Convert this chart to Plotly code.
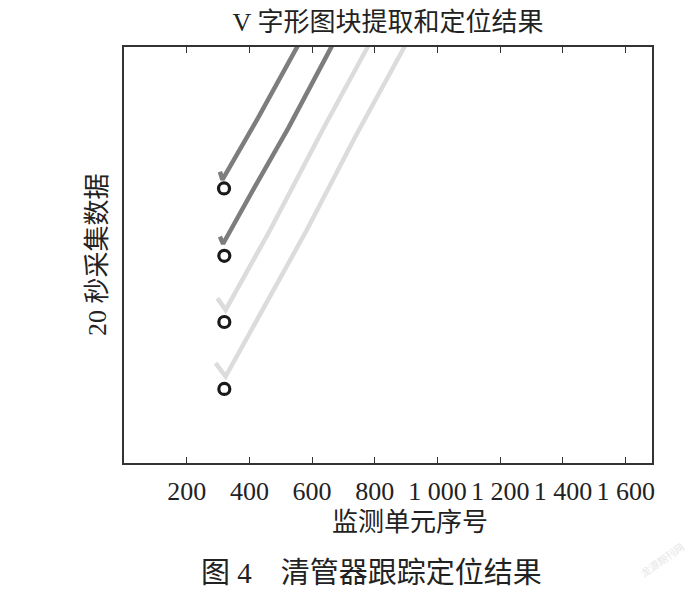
import plotly.graph_objects as go

# ---- data ----
# four tracked V-shaped blocks: x = monitoring unit index, y = time position (arbitrary units 0-100)
track1_x = [306, 314, 428, 549, 574]
track1_y = [70.0, 68.1, 83.0, 99.7, 103.0]
track2_x = [306, 316, 418, 524, 662, 683]
track2_y = [54.4, 52.7, 66.5, 80.5, 100.1, 103.0]
track3_x = [298, 324, 466, 640, 775, 799]
track3_y = [39.6, 36.8, 56.0, 81.0, 99.7, 103.0]
track4_x = [292, 324, 583, 738, 892, 916]
track4_y = [24.0, 20.8, 56.0, 78.5, 99.7, 103.0]

loc_x = [319, 320, 320, 320]
loc_y = [66.0, 49.8, 33.9, 17.8]

tick_vals = [200, 400, 600, 800, 1000, 1200, 1400, 1600]
tick_text = ["200", "400", "600", "800", "1 000", "1 200", "1 400", "1 600"]

title_text = "V 字形图块提取和定位结果"
x_title = "监测单元序号"
y_title = "20 秒采集数据"
caption = "图 4\u3000清管器跟踪定位结果"

FONT = "Liberation Serif, Times New Roman, Noto Sans CJK SC, serif"
DARK = "#7d7d7d"
LIGHT = "#dcdcdc"

fig = go.Figure()
for xs, ys, col in [(track1_x, track1_y, DARK), (track2_x, track2_y, DARK),
                    (track3_x, track3_y, LIGHT), (track4_x, track4_y, LIGHT)]:
    fig.add_trace(go.Scatter(x=xs, y=ys, mode="lines",
                             line=dict(color=col, width=4.5), showlegend=False,
                             hoverinfo="skip"))

fig.add_trace(go.Scatter(x=loc_x, y=loc_y, mode="markers",
                         marker=dict(symbol="circle-open", size=11, color="#1a1a1a",
                                     line=dict(width=3.2, color="#1a1a1a")),
                         showlegend=False, cliponaxis=False))

fig.update_layout(
    width=700, height=593,
    margin=dict(l=124, r=48, t=47, b=130),
    paper_bgcolor="white", plot_bgcolor="white",
    font=dict(family=FONT, color="#222222", size=26),
    title=dict(text=title_text, x=388 / 700, xanchor="center",
               y=1 - 22 / 593, yanchor="middle", yref="container",
               font=dict(family=FONT, size=26, color="#222222")),
    xaxis=dict(range=[0, 1684], showgrid=False, zeroline=False,
               showline=True, linecolor="#333333", linewidth=1.5, mirror="ticks",
               ticks="inside", ticklen=6, tickcolor="#333333", tickwidth=1,
               tickvals=tick_vals, ticktext=tick_text,
               tickfont=dict(family=FONT, size=26, color="#222222"),
               ticklabelstandoff=4),
    yaxis=dict(range=[0, 100], showgrid=False, zeroline=False,
               showline=True, linecolor="#333333", linewidth=1.5, mirror=True,
               ticks="", showticklabels=False),
    annotations=[
        dict(text=x_title, xref="paper", yref="paper", x=(410 - 124) / 528,
             y=(463.3 - 523) / 416.3, xanchor="center", yanchor="middle",
             showarrow=False, font=dict(family=FONT, size=26, color="#222222")),
        dict(text=y_title, xref="paper", yref="paper", x=(97 - 124) / 528,
             y=0.5, xanchor="center", yanchor="middle", textangle=-90,
             showarrow=False, font=dict(family=FONT, size=26, color="#222222")),
        dict(text=caption, xref="paper", yref="paper", x=(371 - 124) / 528,
             y=(463.3 - 573) / 416.3, xanchor="center", yanchor="middle",
             showarrow=False, font=dict(family=FONT, size=29, color="#222222")),
        dict(text="龙源期刊网", xref="paper", yref="paper", x=(662 - 124) / 528,
             y=(463.3 - 560) / 416.3, xanchor="center", yanchor="middle",
             textangle=-35, showarrow=False,
             font=dict(family=FONT, size=10, color="#e6e6e6")),
    ],
)

# remove the default 8px page margin so the figure sits at the window's top-left corner
fig.write_html("out.html", config={"displayModeBar": False},
               post_script="document.body.style.margin='0';")
